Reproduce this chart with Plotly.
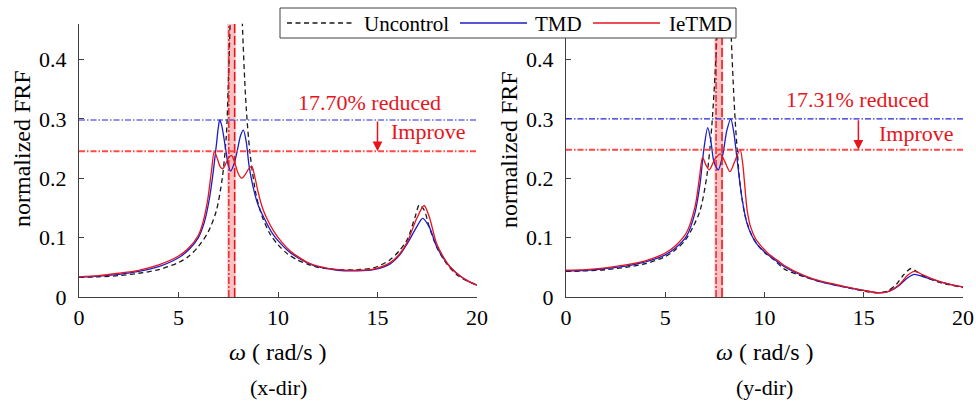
import plotly.graph_objects as go

# ---------------- x-direction FRF samples ----------------
wx_unc = [0, 1, 2, 3, 4, 5, 5.5, 6, 6.5, 6.9, 7.2, 7.4, 7.5, 7.6, 7.75, 7.9, 8.05, 8.2, 8.4, 8.6, 8.9,
          9.2, 9.6, 10, 10.5, 11, 11.5, 12, 13, 14, 14.8, 15.6, 16.1, 16.5, 16.9, 17.1, 17.35, 17.6,
          18, 18.5, 19, 19.5, 20]
fx_unc = [0.033, 0.034, 0.036, 0.040, 0.046, 0.058, 0.068, 0.085, 0.110, 0.145, 0.200, 0.270, 0.355,
          0.470, 0.750, 1.000, 0.720, 0.470, 0.320, 0.240, 0.172, 0.136, 0.106, 0.088, 0.072, 0.062,
          0.055, 0.050, 0.046, 0.046, 0.049, 0.062, 0.078, 0.097, 0.136, 0.155, 0.146, 0.118, 0.082,
          0.055, 0.037, 0.027, 0.021]

wx_tmd = [0, 1, 2, 3, 4, 5, 5.5, 6, 6.3, 6.55, 6.75, 6.9, 7.0, 7.07, 7.17, 7.37, 7.5, 7.62, 7.8, 7.97,
          8.12, 8.26, 8.4, 8.55, 8.75, 9.0, 9.3, 9.7, 10, 10.5, 11, 11.5, 12, 13, 14, 14.8, 15.6, 16.1,
          16.5, 16.97, 17.27, 17.6, 17.97, 18.3, 18.64, 19.2, 19.6, 20]
fx_tmd = [0.033, 0.035, 0.038, 0.043, 0.051, 0.066, 0.079, 0.100, 0.126, 0.165, 0.212, 0.255, 0.285,
          0.298, 0.289, 0.249, 0.222, 0.212, 0.225, 0.249, 0.272, 0.281, 0.262, 0.220, 0.185, 0.155,
          0.133, 0.108, 0.095, 0.078, 0.066, 0.057, 0.051, 0.045, 0.044, 0.046, 0.055, 0.070, 0.090,
          0.118, 0.1325, 0.118, 0.085, 0.066, 0.051, 0.034, 0.026, 0.020]

wx_ie = [0, 1, 2, 3, 4, 5, 5.5, 6, 6.2, 6.45, 6.65, 6.8, 6.95, 7.1, 7.22, 7.4, 7.55, 7.67, 7.8, 8.0,
         8.17, 8.35, 8.55, 8.68, 8.85, 9.0, 9.2, 9.43, 9.8, 10.2, 10.6, 11, 11.5, 12, 13, 14, 14.8,
         15.6, 16.1, 16.5, 16.97, 17.34, 17.6, 17.97, 18.3, 18.64, 19.2, 19.6, 20]
fx_ie = [0.034, 0.036, 0.040, 0.045, 0.054, 0.069, 0.082, 0.104, 0.122, 0.160, 0.210, 0.2453, 0.233,
         0.219, 0.216, 0.226, 0.236, 0.238, 0.229, 0.208, 0.200, 0.206, 0.217, 0.220, 0.200, 0.177,
         0.152, 0.133, 0.110, 0.092, 0.078, 0.068, 0.058, 0.052, 0.046, 0.045, 0.047, 0.057, 0.072,
         0.093, 0.132, 0.154, 0.135, 0.090, 0.068, 0.051, 0.034, 0.026, 0.020]

# ---------------- y-direction FRF samples ----------------
wy_unc = [0, 1, 2, 3, 4, 5, 5.5, 6, 6.4, 6.75, 7.1, 7.35, 7.6, 7.78, 7.95, 8.12, 8.3, 8.5, 8.63, 8.75,
          9.0, 9.3, 9.6, 10, 10.5, 11, 12, 12.8, 14, 15, 15.7, 16.2, 16.66, 17.0, 17.38, 17.7, 18.2,
          19, 20]
fy_unc = [0.043, 0.044, 0.046, 0.050, 0.056, 0.068, 0.079, 0.095, 0.118, 0.145, 0.205, 0.290, 0.440,
          0.720, 1.000, 0.720, 0.460, 0.310, 0.245, 0.195, 0.140, 0.108, 0.090, 0.075, 0.062, 0.047,
          0.034, 0.026, 0.017, 0.010, 0.007, 0.010, 0.022, 0.037, 0.048, 0.042, 0.032, 0.023, 0.016]

wy_tmd = [0, 1, 2, 3, 4, 5, 5.5, 6.08, 6.5, 6.75, 6.95, 7.14, 7.3, 7.45, 7.67, 7.9, 8.1, 8.3, 8.45,
          8.6, 8.85, 9.1, 9.35, 9.6, 10, 10.5, 11, 12, 12.8, 14, 15, 15.8, 16.3, 16.8, 17.2, 17.55,
          18, 18.5, 19, 19.5, 20]
fy_tmd = [0.044, 0.045, 0.048, 0.052, 0.059, 0.071, 0.082, 0.103, 0.142, 0.190, 0.250, 0.285, 0.262,
          0.228, 0.214, 0.240, 0.280, 0.300, 0.278, 0.237, 0.170, 0.126, 0.104, 0.090, 0.076, 0.063,
          0.051, 0.035, 0.026, 0.017, 0.011, 0.007, 0.010, 0.020, 0.032, 0.038, 0.034, 0.029, 0.024,
          0.020, 0.017]

wy_ie = [0, 1, 2, 3, 4, 5, 5.5, 6.08, 6.5, 6.72, 6.88, 7.05, 7.22, 7.5, 7.78, 8.0, 8.26, 8.5, 8.77,
         8.9, 9.0, 9.13, 9.3, 9.55, 9.8, 10.2, 10.6, 11, 12, 12.8, 14, 15, 15.8, 16.3, 16.8, 17.2,
         17.55, 18, 18.5, 19, 19.5, 20]
fy_ie = [0.045, 0.046, 0.049, 0.054, 0.061, 0.074, 0.086, 0.109, 0.152, 0.200, 0.235, 0.222, 0.214,
         0.232, 0.241, 0.228, 0.211, 0.228, 0.248, 0.225, 0.190, 0.145, 0.118, 0.098, 0.087, 0.073,
         0.063, 0.053, 0.036, 0.027, 0.018, 0.011, 0.007, 0.010, 0.021, 0.036, 0.043, 0.037, 0.030,
         0.024, 0.020, 0.017]

# peak levels (TMD, IeTMD) and the stated reductions
peak_tmd = [0.298, 0.300]
peak_ie = [0.2453, 0.2481]
reduction_text = ["17.70% reduced", "17.31% reduced"]
# frequency band around the structure's natural frequency
band_lo = [7.45, 7.48]
band_hi = [7.88, 7.92]
line_dashdot = [7.53, 7.56]
line_dash = [7.82, 7.86]
# annotation anchors (data coords)
reduced_xy = [(14.6, 0.327), (14.68, 0.333)]
arrow_x = [15.0, 14.73]
improve_xy = [(17.56, 0.278), (17.67, 0.276)]
panel_names = ["(x-dir)", "(y-dir)"]

xticks = [0, 5, 10, 15, 20]
xtick_text = ["0", "5", "10", "15", "20"]
yticks = [0, 0.1, 0.2, 0.3, 0.4]
ytick_text = ["0", "0.1", "0.2", "0.3", "0.4"]
series_names = ["Uncontrol", "TMD", "IeTMD"]

W, H = 976, 403
FONT = "Liberation Serif"
BLACK = "#1a1a1a"
BLUE = "#1c1cc8"
RED = "#e8141c"
AXIS = "#404040"
YMAX = 0.46

# pixel layout of the two panels
px_left = [79, 566]
px_right = [477, 963]
px_bottom = 297
px_per_unit_y = 594.0
px_top = px_bottom - YMAX * px_per_unit_y

fig = go.Figure()

panels = [
    (wx_unc, fx_unc, wx_tmd, fx_tmd, wx_ie, fx_ie),
    (wy_unc, fy_unc, wy_tmd, fy_tmd, wy_ie, fy_ie),
]

for i, (wu, fu, wt, ft, wi, fi) in enumerate(panels):
    xa = "x" if i == 0 else "x2"
    ya = "y" if i == 0 else "y2"
    fig.add_trace(go.Scatter(x=wu, y=fu, mode="lines", name=series_names[0], showlegend=False,
                             line=dict(color=BLACK, width=1.3, dash="5px,3.5px", shape="spline", smoothing=0.8),
                             xaxis=xa, yaxis=ya))
    fig.add_trace(go.Scatter(x=wt, y=ft, mode="lines", name=series_names[1], showlegend=False,
                             line=dict(color=BLUE, width=1.3, shape="spline", smoothing=0.8),
                             xaxis=xa, yaxis=ya))
    fig.add_trace(go.Scatter(x=wi, y=fi, mode="lines", name=series_names[2], showlegend=False,
                             line=dict(color=RED, width=1.3, shape="spline", smoothing=0.8),
                             xaxis=xa, yaxis=ya))

shapes = []
annotations = []
for i in range(2):
    xr = "x" if i == 0 else "x2"
    yr = "y" if i == 0 else "y2"
    # shaded band with its two edge lines
    shapes.append(dict(type="rect", xref=xr, yref=yr, x0=band_lo[i], x1=band_hi[i], y0=0, y1=YMAX,
                       fillcolor="#f8c2c2", line=dict(width=0), layer="below"))
    shapes.append(dict(type="line", xref=xr, yref=yr, x0=line_dashdot[i], x1=line_dashdot[i], y0=0, y1=YMAX,
                       line=dict(color=RED, width=1.3, dash="7px,2px,2px,2px")))
    shapes.append(dict(type="line", xref=xr, yref=yr, x0=line_dash[i], x1=line_dash[i], y0=0, y1=YMAX,
                       line=dict(color=RED, width=1.5, dash="9px,3px")))
    # peak reference levels
    shapes.append(dict(type="line", xref=xr, yref=yr, x0=0, x1=20, y0=peak_tmd[i], y1=peak_tmd[i],
                       line=dict(color="#2424d8", width=1.2, dash="6px,2px,1.5px,2px")))
    shapes.append(dict(type="line", xref=xr, yref=yr, x0=0, x1=20, y0=peak_ie[i], y1=peak_ie[i],
                       line=dict(color="#ff4848", width=2, dash="6px,2px,1.5px,2px")))
    # reduction texts and arrow
    annotations.append(dict(xref=xr, yref=yr, x=reduced_xy[i][0], y=reduced_xy[i][1], text=reduction_text[i],
                            showarrow=False, font=dict(family=FONT, size=22, color=RED),
                            xanchor="center", yanchor="middle"))
    annotations.append(dict(xref=xr, yref=yr, x=improve_xy[i][0], y=improve_xy[i][1], text="Improve",
                            showarrow=False, font=dict(family=FONT, size=22, color=RED),
                            xanchor="center", yanchor="middle"))
    annotations.append(dict(xref=xr, yref=yr, x=arrow_x[i], y=peak_ie[i], ax=arrow_x[i], ay=peak_tmd[i],
                            axref=xr, ayref=yr, text="", showarrow=True, arrowhead=2, arrowsize=1.3,
                            arrowwidth=1.5, arrowcolor=RED, standoff=0, startstandoff=0))
    # axis titles and panel captions
    cx = (px_left[i] + px_right[i]) / 2.0
    annotations.append(dict(xref="paper", yref="paper", x=cx / W, y=1 - 352 / H,
                            text="<i>ω</i> ( rad/s )", showarrow=False,
                            font=dict(family=FONT, size=24, color="black"),
                            xanchor="center", yanchor="middle"))
    annotations.append(dict(xref="paper", yref="paper", x=cx / W, y=1 - 387 / H,
                            text=panel_names[i], showarrow=False,
                            font=dict(family=FONT, size=22, color="black"),
                            xanchor="center", yanchor="middle"))
    annotations.append(dict(xref="paper", yref="paper", x=(px_left[i] - 57) / W, y=1 - 149 / H,
                            text="normalized FRF", textangle=-90, showarrow=False,
                            font=dict(family=FONT, size=24, color="black"),
                            xanchor="center", yanchor="middle"))

# legend box drawn over both panels
leg_x0, leg_x1, leg_y0, leg_y1 = 280, 736, 8, 38
leg_mid = (leg_y0 + leg_y1) / 2.0
shapes.append(dict(type="rect", xref="paper", yref="paper", x0=leg_x0 / W, x1=leg_x1 / W,
                   y0=1 - leg_y1 / H, y1=1 - leg_y0 / H, fillcolor="white",
                   line=dict(color=AXIS, width=1), layer="above"))
leg_items = [
    (287, 353, 362, BLACK, "5px,3.5px"),
    (460, 527, 533, BLUE, "solid"),
    (593, 660, 667, RED, "solid"),
]
for (s0, s1, tx, col, dsh), name in zip(leg_items, series_names):
    shapes.append(dict(type="line", xref="paper", yref="paper", x0=s0 / W, x1=s1 / W,
                       y0=1 - leg_mid / H, y1=1 - leg_mid / H,
                       line=dict(color=col, width=1.3, dash=dsh), layer="above"))
    annotations.append(dict(xref="paper", yref="paper", x=tx / W, y=1 - (leg_mid + 0.5) / H, text=name,
                            showarrow=False, font=dict(family=FONT, size=21, color="black"),
                            xanchor="left", yanchor="middle"))

axis_common = dict(showline=True, linecolor=AXIS, linewidth=1, ticks="inside", ticklen=5,
                   tickcolor=AXIS, showgrid=False, zeroline=False, mirror=False,
                   tickfont=dict(family=FONT, size=22, color="black"), automargin=False)

ydom = [1 - px_bottom / H, 1 - px_top / H]

fig.update_layout(
    width=W, height=H, margin=dict(l=0, r=0, t=0, b=0),
    font=dict(family=FONT),
    paper_bgcolor="white", plot_bgcolor="white", showlegend=False,
    xaxis=dict(domain=[px_left[0] / W, px_right[0] / W], range=[0, 20], tickvals=xticks,
               ticktext=xtick_text, anchor="y", ticklabelstandoff=1, **axis_common),
    yaxis=dict(domain=ydom, range=[0, YMAX], tickvals=yticks, ticktext=ytick_text, anchor="x",
               ticklabelstandoff=7, **axis_common),
    xaxis2=dict(domain=[px_left[1] / W, px_right[1] / W], range=[0, 20], tickvals=xticks,
                ticktext=xtick_text, anchor="y2", ticklabelstandoff=1, **axis_common),
    yaxis2=dict(domain=ydom, range=[0, YMAX], tickvals=yticks, ticktext=ytick_text, anchor="x2",
                ticklabelstandoff=7, **axis_common),
    shapes=shapes, annotations=annotations,
)

fig.write_html("out.html")
